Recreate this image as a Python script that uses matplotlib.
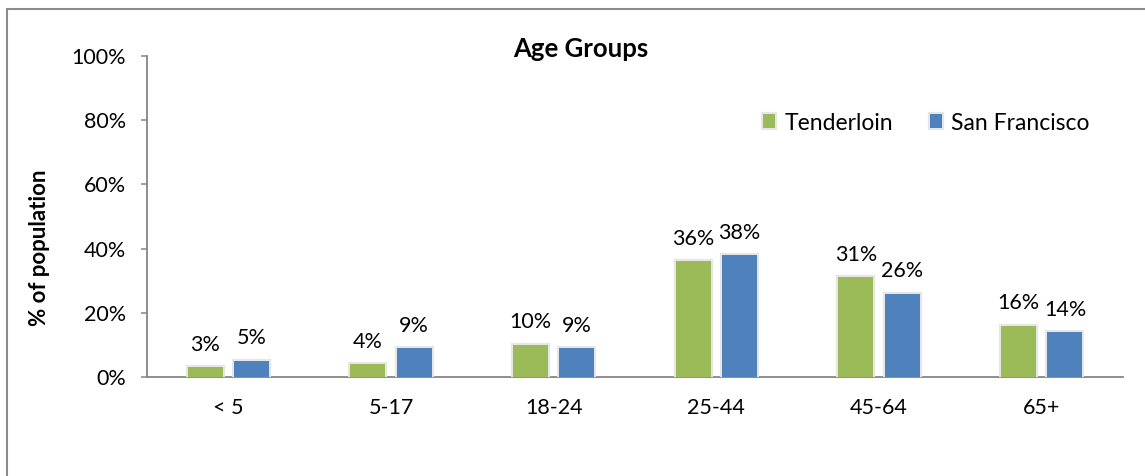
import matplotlib.pyplot as plt
import matplotlib.patheffects as pe
from matplotlib.patches import Rectangle
import numpy as np

# age group shares
groups = ['< 5', '5-17', '18-24', '25-44', '45-64', '65+']
tenderloin = [3, 4, 10, 36, 31, 16]
san_francisco = [5, 9, 9, 38, 26, 14]

green = '#9BBB59'
blue = '#4F81BD'
grey = '#868686'

plt.rcParams['font.family'] = ['Lato', 'DejaVu Sans']

fig = plt.figure(figsize=(11.45, 4.76), dpi=100)
ax = fig.add_axes([147 / 1145, 1 - 377 / 476, 976 / 1145, 321 / 476])

x = np.arange(len(groups))
w = 0.215
glow = [pe.withStroke(linewidth=3, foreground='#e6e6e6')]
b1 = ax.bar(x - 0.143, tenderloin, w, color=green, label='Tenderloin',
            path_effects=glow, zorder=3)
b2 = ax.bar(x + 0.143, san_francisco, w, color=blue, label='San Francisco',
            path_effects=glow, zorder=3)

for bars, vals in [(b1, tenderloin), (b2, san_francisco)]:
    for b, v in zip(bars, vals):
        ax.annotate(f'{v}%', (b.get_x() + b.get_width() / 2, v),
                    xytext=(0, 9), textcoords='offset points',
                    ha='center', va='bottom', fontsize=15.5)

ax.set_xlim(-0.5, len(groups) - 0.5)
ax.set_ylim(0, 100)
ax.set_yticks(range(0, 101, 20))
ax.set_yticklabels([f'{t}%' for t in range(0, 101, 20)])
ax.set_xticks(x)
ax.set_xticklabels(groups)
ax.tick_params(axis='x', length=0, pad=15, labelsize=15.5)
ax.tick_params(axis='y', length=4, width=1.1, color=grey, pad=11, labelsize=15.5)

for s in ['top', 'right']:
    ax.spines[s].set_visible(False)
for s in ['left', 'bottom']:
    ax.spines[s].set_color(grey)
    ax.spines[s].set_linewidth(1.3)

fig.text(40 / 1145, 1 - 248 / 476, '% of population', rotation=90,
         ha='center', va='center', fontsize=16, fontweight='bold')
fig.text(0.507, 1 - 49 / 476, 'Age Groups', ha='center', va='center',
         fontsize=18.5, fontweight='bold')

fig.legend(loc='center left', bbox_to_anchor=(742 / 1145, 1 - 123 / 476),
           ncol=2, frameon=False, fontsize=16.5, handlelength=0.55,
           handleheight=0.55, handletextpad=0.4, columnspacing=1.6)

# outer chart border
fig.patches.append(Rectangle((7 / 1145, -0.1), 1.2, 1 - 9 / 476 + 0.1,
                             transform=fig.transFigure, fill=False,
                             edgecolor='#8c8c8c', linewidth=1.5))

fig.savefig('out.png', dpi=100)
